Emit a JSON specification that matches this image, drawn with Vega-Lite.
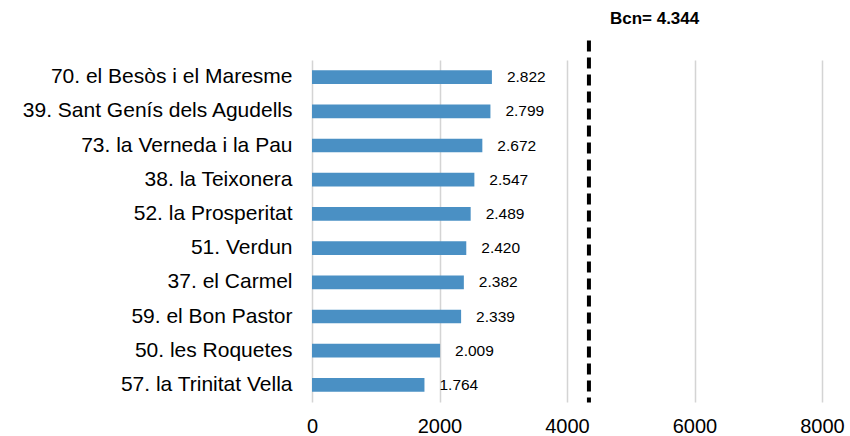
{
  "$schema": "https://vega.github.io/schema/vega-lite/v6.json",
  "width": 510,
  "height": 342,
  "autosize": "none",
  "padding": {"left": 312, "top": 60, "right": 28, "bottom": 34},
  "config": {
    "view": {"stroke": null},
    "locale": {"number": {"decimal": ",", "thousands": ".", "grouping": [3], "currency": ["", " €"]}},
    "font": "Liberation Sans"
  },
  "data": {
    "values": [
      {"barri": "70. el Besòs i el Maresme", "valor": 2822},
      {"barri": "39. Sant Genís dels Agudells", "valor": 2799},
      {"barri": "73. la Verneda i la Pau", "valor": 2672},
      {"barri": "38. la Teixonera", "valor": 2547},
      {"barri": "52. la Prosperitat", "valor": 2489},
      {"barri": "51. Verdun", "valor": 2420},
      {"barri": "37. el Carmel", "valor": 2382},
      {"barri": "59. el Bon Pastor", "valor": 2339},
      {"barri": "50. les Roquetes", "valor": 2009},
      {"barri": "57. la Trinitat Vella", "valor": 1764}
    ]
  },
  "encoding": {
    "y": {
      "field": "barri",
      "type": "nominal",
      "sort": null,
      "scale": {"paddingInner": 0.6, "paddingOuter": 0.3},
      "axis": {
        "title": null,
        "ticks": false,
        "domain": false,
        "labelPadding": 20,
        "labelFont": "Liberation Sans",
        "labelFontSize": 21,
        "labelColor": "#000000",
        "labelLimit": 400
      }
    }
  },
  "layer": [
    {
      "mark": {"type": "bar", "color": "#4a90c4"},
      "encoding": {
        "x": {
          "field": "valor",
          "type": "quantitative",
          "scale": {"domain": [0, 8000], "nice": false},
          "axis": {
            "title": null,
            "values": [0, 2000, 4000, 6000, 8000],
            "format": "d",
            "ticks": false,
            "domain": false,
            "grid": true,
            "gridColor": "#d4d4d4",
            "gridWidth": 1.5,
            "labelPadding": 14,
            "labelFont": "Liberation Sans",
            "labelFontSize": 20,
            "labelColor": "#000000",
            "labelFlush": false
          }
        }
      }
    },
    {
      "mark": {"type": "text", "align": "left", "baseline": "middle", "dx": 15, "fontSize": 15.5, "font": "Liberation Sans", "color": "#000000"},
      "encoding": {
        "x": {"field": "valor", "type": "quantitative"},
        "text": {"field": "valor", "type": "quantitative", "format": ",.0f"}
      }
    },
    {
      "data": {"values": [{"bcn": 4344, "etiqueta": "Bcn= 4.344"}]},
      "layer": [
        {
          "mark": {"type": "rule", "color": "#000000", "strokeWidth": 4, "strokeDash": [11, 6]},
          "encoding": {
            "x": {"field": "bcn", "type": "quantitative"},
            "y": {"datum": "70. el Besòs i el Maresme", "type": "nominal", "bandPosition": -2.18},
            "y2": {"datum": "57. la Trinitat Vella", "bandPosition": 1.78}
          }
        },
        {
          "mark": {"type": "text", "align": "left", "baseline": "alphabetic", "dx": 21, "fontSize": 17, "fontWeight": "bold", "font": "Liberation Sans", "color": "#000000"},
          "encoding": {
            "x": {"field": "bcn", "type": "quantitative"},
            "y": {"datum": "70. el Besòs i el Maresme", "type": "nominal", "bandPosition": -3.4},
            "text": {"field": "etiqueta", "type": "nominal"}
          }
        }
      ]
    }
  ]
}
